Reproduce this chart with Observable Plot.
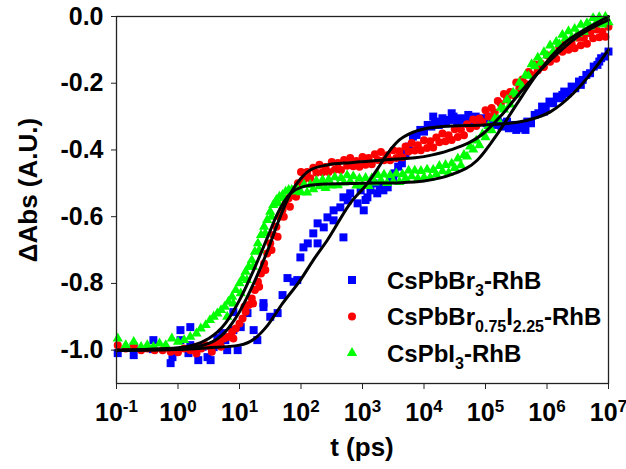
<!DOCTYPE html>
<html><head><meta charset="utf-8">
<script src="https://cdn.jsdelivr.net/npm/d3@7"></script>
<script src="https://cdn.jsdelivr.net/npm/@observablehq/plot@0.6"></script>
<style>
html,body{margin:0;padding:0;background:#fff;}
#chart{width:626px;height:469px;}
</style></head><body><div id="chart"></div>
<script>
// ---- data (x given as log10 of t in ps) ----
const seriesNames = ["CsPbBr3-RhB", "CsPbBr0.75I2.25-RhB", "CsPbI3-RhB"];
const xTickExponents = [-1, 0, 1, 2, 3, 4, 5, 6, 7];
const yTicks = [0.0, -0.2, -0.4, -0.6, -0.8, -1.0];

// CsPbBr3-RhB (blue squares)
const blueLogT = [-0.98,-0.72,-0.72,-0.41,-0.40,-0.12,-0.09,0.04,0.04,0.17,0.20,0.20,0.33,0.40,0.48,0.53,0.58,0.64,0.72,0.77,0.80,0.90,0.90,0.97,1.02,1.13,1.23,1.29,1.39,1.39,1.50,1.62,1.70,1.78,1.88,1.94,1.99,2.04,2.11,2.20,2.27,2.27,2.37,2.43,2.53,2.53,2.64,2.69,2.69,2.76,2.80,2.92,2.97,3.02,3.05,3.08,3.13,3.18,3.24,3.28,3.34,3.41,3.45,3.50,
  3.52,3.58,3.64,3.70,3.76,3.82,3.88,3.94,4.00,4.06,4.12,4.15,4.18,4.24,4.30,4.36,4.42,4.45,4.48,4.54,4.60,4.66,4.72,4.75,4.78,4.84,4.90,4.96,5.02,5.05,5.08,5.14,5.20,5.26,5.32,5.35,5.38,5.44,5.50,5.56,5.62,5.65,5.68,5.74,5.80,5.86,5.92,5.95,5.98,6.04,6.10,6.16,6.22,6.25,6.28,6.34,6.40,6.46,6.52,6.55,6.58,6.64,6.70,6.76,6.82,6.85,6.88,6.94,7.00];
const blueV = [-1.009,-1.015,-0.99,-0.997,-0.97,-1.039,-1.021,-0.97,-0.94,-1.009,-0.985,-0.931,-1.03,-0.99,-1.021,-1.03,-0.991,-0.964,-0.949,-0.97,-1.0,-0.886,-0.94,-1.0,-0.931,-0.889,-0.94,-0.97,-0.871,-0.859,-0.9,-0.889,-0.835,-0.784,-0.795,-0.79,-0.722,-0.692,-0.68,-0.65,-0.68,-0.62,-0.632,-0.602,-0.611,-0.581,-0.572,-0.662,-0.542,-0.551,-0.53,-0.56,-0.521,-0.581,-0.55,-0.542,-0.521,-0.50,-0.53,-0.51,-0.521,-0.512,-0.49,-0.482,
  -0.47,-0.45,-0.44,-0.41,-0.39,-0.36,-0.355,-0.34,-0.345,-0.325,-0.33,-0.30,-0.315,-0.325,-0.305,-0.32,-0.31,-0.29,-0.30,-0.315,-0.305,-0.31,-0.295,-0.315,-0.31,-0.30,-0.315,-0.305,-0.32,-0.30,-0.31,-0.325,-0.315,-0.33,-0.32,-0.315,-0.335,-0.325,-0.34,-0.325,-0.335,-0.34,-0.315,-0.32,-0.295,-0.29,-0.27,-0.285,-0.275,-0.255,-0.26,-0.24,-0.245,-0.235,-0.225,-0.23,-0.21,-0.215,-0.195,-0.205,-0.19,-0.175,-0.17,-0.15,-0.145,-0.135,-0.125,-0.12,-0.105];

// CsPbBr0.75I2.25-RhB (red circles)
const redLogT = [-0.98,-0.85,-0.72,-0.6,-0.5,-0.38,-0.25,-0.12,0.0,0.1,0.2,0.3,0.3,0.38,0.45,0.52,0.55,0.6,0.68,0.7,0.75,0.82,0.88,0.9,0.94,1.0,1.05,1.08,1.1,1.15,1.2,1.22,1.25,1.3,1.32,1.35,1.4,1.42,1.45,1.5,1.52,1.55,1.6,1.62,1.65,1.7,1.72,1.75,1.8,1.82,1.85,1.9,1.92,1.95,
  2.00,2.05,2.10,2.15,2.20,2.25,2.30,2.35,2.40,2.45,2.50,2.55,2.60,2.65,2.70,2.75,2.80,2.85,2.90,2.95,3.00,3.05,3.10,3.15,3.20,3.25,3.30,3.35,3.40,3.45,3.50,3.55,3.60,3.65,3.70,3.75,3.80,3.85,3.90,3.95,4.00,4.05,4.10,4.15,4.20,4.25,4.30,4.35,4.40,4.45,4.50,4.55,4.60,4.65,4.70,4.75,4.80,4.85,4.90,4.95,5.00,5.05,5.10,5.15,5.20,5.25,5.30,5.35,5.40,5.45,5.50,5.55,5.60,5.65,5.70,5.75,5.80,5.85,5.90,5.95,6.00,6.05,6.10,6.15,6.20,6.25,6.30,6.35,6.40,6.45,6.50,6.55,6.60,6.65,6.70,6.75,6.80,6.85,6.90,6.95,7.00];
const redV = [-0.985,-0.995,-0.99,-1.0,-0.995,-1.0,-1.0,-1.005,-1.006,-0.995,-1.0,-0.99,-1.01,-0.995,-0.985,-0.99,-1.005,-0.98,-0.975,-0.99,-0.965,-0.96,-0.945,-0.965,-0.935,-0.92,-0.905,-0.87,-0.885,-0.865,-0.845,-0.86,-0.82,-0.795,-0.81,-0.77,-0.74,-0.76,-0.71,-0.68,-0.70,-0.655,-0.63,-0.66,-0.60,-0.58,-0.60,-0.56,-0.545,-0.57,-0.535,-0.52,-0.54,-0.50,
  -0.466,-0.488,-0.466,-0.485,-0.453,-0.468,-0.444,-0.467,-0.451,-0.466,-0.436,-0.459,-0.439,-0.460,-0.430,-0.447,-0.424,-0.449,-0.433,-0.450,-0.421,-0.444,-0.424,-0.443,-0.413,-0.430,-0.406,-0.431,-0.416,-0.431,-0.401,-0.424,-0.404,-0.422,-0.390,-0.405,-0.379,-0.402,-0.386,-0.401,-0.371,-0.394,-0.374,-0.393,-0.363,-0.377,-0.351,-0.374,-0.356,-0.370,-0.338,-0.361,-0.339,-0.356,-0.323,-0.336,-0.309,-0.328,-0.306,-0.316,-0.281,-0.300,-0.274,-0.288,-0.253,-0.262,-0.232,-0.249,-0.226,-0.235,-0.198,-0.216,-0.189,-0.202,-0.166,-0.175,-0.144,-0.162,-0.141,-0.151,-0.116,-0.136,-0.112,-0.127,-0.093,-0.106,-0.079,-0.100,-0.081,-0.095,-0.064,-0.086,-0.064,-0.082,-0.050,-0.065,-0.039,-0.062,-0.046,-0.061,-0.031];

// CsPbI3-RhB (green triangles)
const greenLogT = [-0.98,-0.85,-0.72,-0.6,-0.5,-0.4,-0.3,-0.2,-0.1,0.0,0.1,0.2,0.3,0.37,0.45,0.52,0.58,0.64,0.7,0.76,0.8,0.82,0.88,0.9,0.94,1.0,1.02,1.05,1.1,1.12,1.15,1.2,1.22,1.25,1.3,1.32,1.35,1.4,1.42,1.45,1.5,1.52,1.55,1.6,1.62,1.65,1.7,1.72,1.75,1.8,1.85,1.9,1.95,
  2.00,2.05,2.10,2.15,2.20,2.25,2.30,2.35,2.40,2.45,2.50,2.55,2.60,2.65,2.70,2.75,2.80,2.85,2.90,2.95,3.00,3.05,3.10,3.15,3.20,3.25,3.30,3.35,3.40,3.45,3.50,3.55,3.60,3.65,3.70,3.75,3.80,3.85,3.90,3.95,4.00,4.05,4.10,4.15,4.20,4.25,4.30,4.35,4.40,4.45,4.50,4.55,4.60,4.65,4.70,4.75,4.80,4.85,4.90,4.95,5.00,5.05,5.10,5.15,5.20,5.25,5.30,5.35,5.40,5.45,5.50,5.55,5.60,5.65,5.70,5.75,5.80,5.85,5.90,5.95,6.00,6.05,6.10,6.15,6.20,6.25,6.30,6.35,6.40,6.45,6.50,6.55,6.60,6.65,6.70,6.75,6.80,6.85,6.90,6.95,7.00];
const greenV = [-0.965,-0.985,-0.975,-0.99,-0.985,-0.99,-0.98,-0.985,-0.965,-0.975,-0.97,-0.96,-0.95,-0.935,-0.925,-0.91,-0.9,-0.89,-0.88,-0.87,-0.90,-0.855,-0.84,-0.86,-0.82,-0.80,-0.83,-0.785,-0.765,-0.79,-0.75,-0.73,-0.75,-0.705,-0.68,-0.70,-0.655,-0.63,-0.65,-0.61,-0.585,-0.60,-0.565,-0.55,-0.56,-0.54,-0.535,-0.545,-0.525,-0.52,-0.52,-0.525,-0.52,
  -0.527,-0.504,-0.528,-0.505,-0.518,-0.493,-0.509,-0.490,-0.514,-0.489,-0.507,-0.482,-0.506,-0.484,-0.498,-0.476,-0.494,-0.479,-0.507,-0.486,-0.507,-0.484,-0.508,-0.485,-0.498,-0.475,-0.491,-0.474,-0.499,-0.476,-0.494,-0.471,-0.496,-0.473,-0.485,-0.462,-0.479,-0.462,-0.486,-0.463,-0.482,-0.459,-0.483,-0.460,-0.473,-0.448,-0.464,-0.445,-0.469,-0.441,-0.454,-0.426,-0.446,-0.415,-0.420,-0.390,-0.399,-0.372,-0.386,-0.353,-0.362,-0.328,-0.341,-0.306,-0.308,-0.274,-0.279,-0.250,-0.264,-0.228,-0.234,-0.199,-0.211,-0.176,-0.178,-0.143,-0.149,-0.123,-0.139,-0.107,-0.117,-0.087,-0.106,-0.076,-0.083,-0.055,-0.066,-0.044,-0.064,-0.037,-0.052,-0.025,-0.046,-0.020,-0.030,-0.005,-0.019,-0.002,-0.024,-0.001,-0.017];

// fitted curves (black lines)
const fitBlueLogT = [-1,0,0.5,1.0,1.25,1.46,1.7,1.99,2.2,2.43,2.8,3.08,3.25,3.41,3.6,3.78,4.0,4.3,4.97,5.52,5.8,6.06,6.43,6.76,7.0];
const fitBlueV    = [-1.0,-0.998,-0.993,-0.985,-0.965,-0.925,-0.86,-0.79,-0.73,-0.67,-0.56,-0.50,-0.455,-0.41,-0.37,-0.35,-0.337,-0.33,-0.325,-0.317,-0.305,-0.285,-0.23,-0.16,-0.10];
const fitRedLogT = [-1,0,0.5,0.77,1.0,1.23,1.46,1.62,1.83,2.0,2.15,2.43,2.8,3.0,3.5,4.0,4.43,4.97,5.24,5.6,6.06,6.5,7.0];
const fitRedV    = [-1.0,-0.997,-0.98,-0.945,-0.885,-0.80,-0.70,-0.62,-0.53,-0.485,-0.46,-0.445,-0.438,-0.435,-0.428,-0.42,-0.40,-0.35,-0.30,-0.22,-0.13,-0.06,-0.01];
const fitGreenLogT = [-1,0,0.5,0.77,1.0,1.23,1.46,1.62,1.83,2.0,2.32,3.0,3.62,4.0,4.43,4.87,5.2,5.5,5.85,6.25,6.7,7.0];
const fitGreenV    = [-1.0,-0.993,-0.965,-0.92,-0.85,-0.76,-0.66,-0.59,-0.53,-0.512,-0.503,-0.50,-0.498,-0.493,-0.475,-0.43,-0.35,-0.265,-0.17,-0.085,-0.03,0.0];

const colors = ["#0000ff", "#ff0000", "#00ff00"];
const symbols = ["square", "circle", "triangle"];

const toRows = (lt, v) => lt.map((e, i) => ({t: Math.pow(10, e), v: v[i]}));
const blueData = toRows(blueLogT, blueV);
const redData = toRows(redLogT, redV);
const greenData = toRows(greenLogT, greenV);
const fitBlue = toRows(fitBlueLogT, fitBlueV);
const fitRed = toRows(fitRedLogT, fitRedV);
const fitGreen = toRows(fitGreenLogT, fitGreenV);
const xTicks = xTickExponents.map(e => Math.pow(10, e));

const FONT = "'Liberation Sans', Arial, Helvetica, sans-serif";

const svg = Plot.plot({
  width: 626, height: 469,
  marginLeft: 116, marginRight: 18, marginTop: 16, marginBottom: 86,
  style: {fontFamily: FONT, fontWeight: "bold", fontSize: "24px", background: "#fff", color: "#000", overflow: "visible"},
  x: {type: "log", domain: [0.1, 1e7]},
  y: {domain: [-1.1, 0]},
  marks: [
    Plot.dot(blueData, {x: "t", y: "v", symbol: symbols[0], r: 4.5, fill: colors[0]}),
    Plot.dot(redData, {x: "t", y: "v", symbol: symbols[1], r: 4, fill: colors[1]}),
    Plot.dot(greenData, {x: "t", y: "v", symbol: symbols[2], r: 3.8, fill: colors[2]}),
    Plot.line(fitBlue, {x: "t", y: "v", stroke: "#000", strokeWidth: 3, curve: "monotone-x"}),
    Plot.line(fitRed, {x: "t", y: "v", stroke: "#000", strokeWidth: 3, curve: "monotone-x"}),
    Plot.line(fitGreen, {x: "t", y: "v", stroke: "#000", strokeWidth: 3, curve: "monotone-x"}),
    Plot.frame({stroke: "#222", strokeWidth: 1.3}),
    Plot.axisX({ticks: xTicks, tickSize: 6, tickPadding: 14, label: null, stroke: "#222", fontSize: 25, fontWeight: "bold",
      tickFormat: d => String(Math.round(Math.log10(d)))}),
    Plot.axisY({ticks: yTicks, tickSize: 5, tickPadding: 8, label: null, stroke: "#222", fontSize: 25, fontWeight: "bold",
      tickFormat: d => d.toFixed(1)})
  ]
});
document.getElementById("chart").appendChild(svg);

const s = d3.select(svg);
// superscript exponents on x tick labels
s.selectAll('g[aria-label="x-axis tick label"] text').each(function() {
  const exp = this.textContent;
  const t = d3.select(this);
  t.text(null);
  t.append("tspan").text("10");
  t.append("tspan").attr("dy", "-9").style("font-size", "17px").text(exp);
});

// axis titles
s.append("text").attr("x", 362).attr("y", 456).attr("text-anchor", "middle")
  .style("font-size", "26px").attr("font-weight", "bold").attr("font-family", FONT).text("t (ps)");
s.append("text").attr("transform", "translate(37,190) rotate(-90)").attr("text-anchor", "middle")
  .style("font-size", "26px").attr("font-weight", "bold").attr("font-family", FONT).text("\u0394Abs (A.U.)");

// legend
const legendRows = [
  {parts: [["CsPbBr", 0], ["3", 1], ["-RhB", 0]]},
  {parts: [["CsPbBr", 0], ["0.75", 1], ["I", 0], ["2.25", 1], ["-RhB", 0]]},
  {parts: [["CsPbI", 0], ["3", 1], ["-RhB", 0]]}
];
const lg = s.append("g").attr("font-family", FONT).attr("font-weight", "bold").attr("text-anchor", "start");
legendRows.forEach((row, i) => {
  const cy = 280 + i * 36.5;
  const sym = d3.symbol().type([d3.symbolSquare, d3.symbolCircle, d3.symbolTriangle][i])
    .size([64, 50, 46][i]);
  lg.append("path").attr("d", sym()).attr("transform", `translate(352,${cy})`).attr("fill", colors[i]);
  const txt = lg.append("text").attr("x", 387).attr("y", cy + 8.5).style("font-size", "24px")
    .attr("fill", "#000").attr("text-anchor", "start");
  let sub = false;
  row.parts.forEach(([str, isSub]) => {
    const ts = txt.append("tspan").text(str);
    if (isSub && !sub) { ts.attr("dy", 7).style("font-size", "16px"); sub = true; }
    else if (isSub && sub) { ts.style("font-size", "16px"); }
    else if (!isSub && sub) { ts.attr("dy", -7); sub = false; }
  });
});
</script></body></html>
